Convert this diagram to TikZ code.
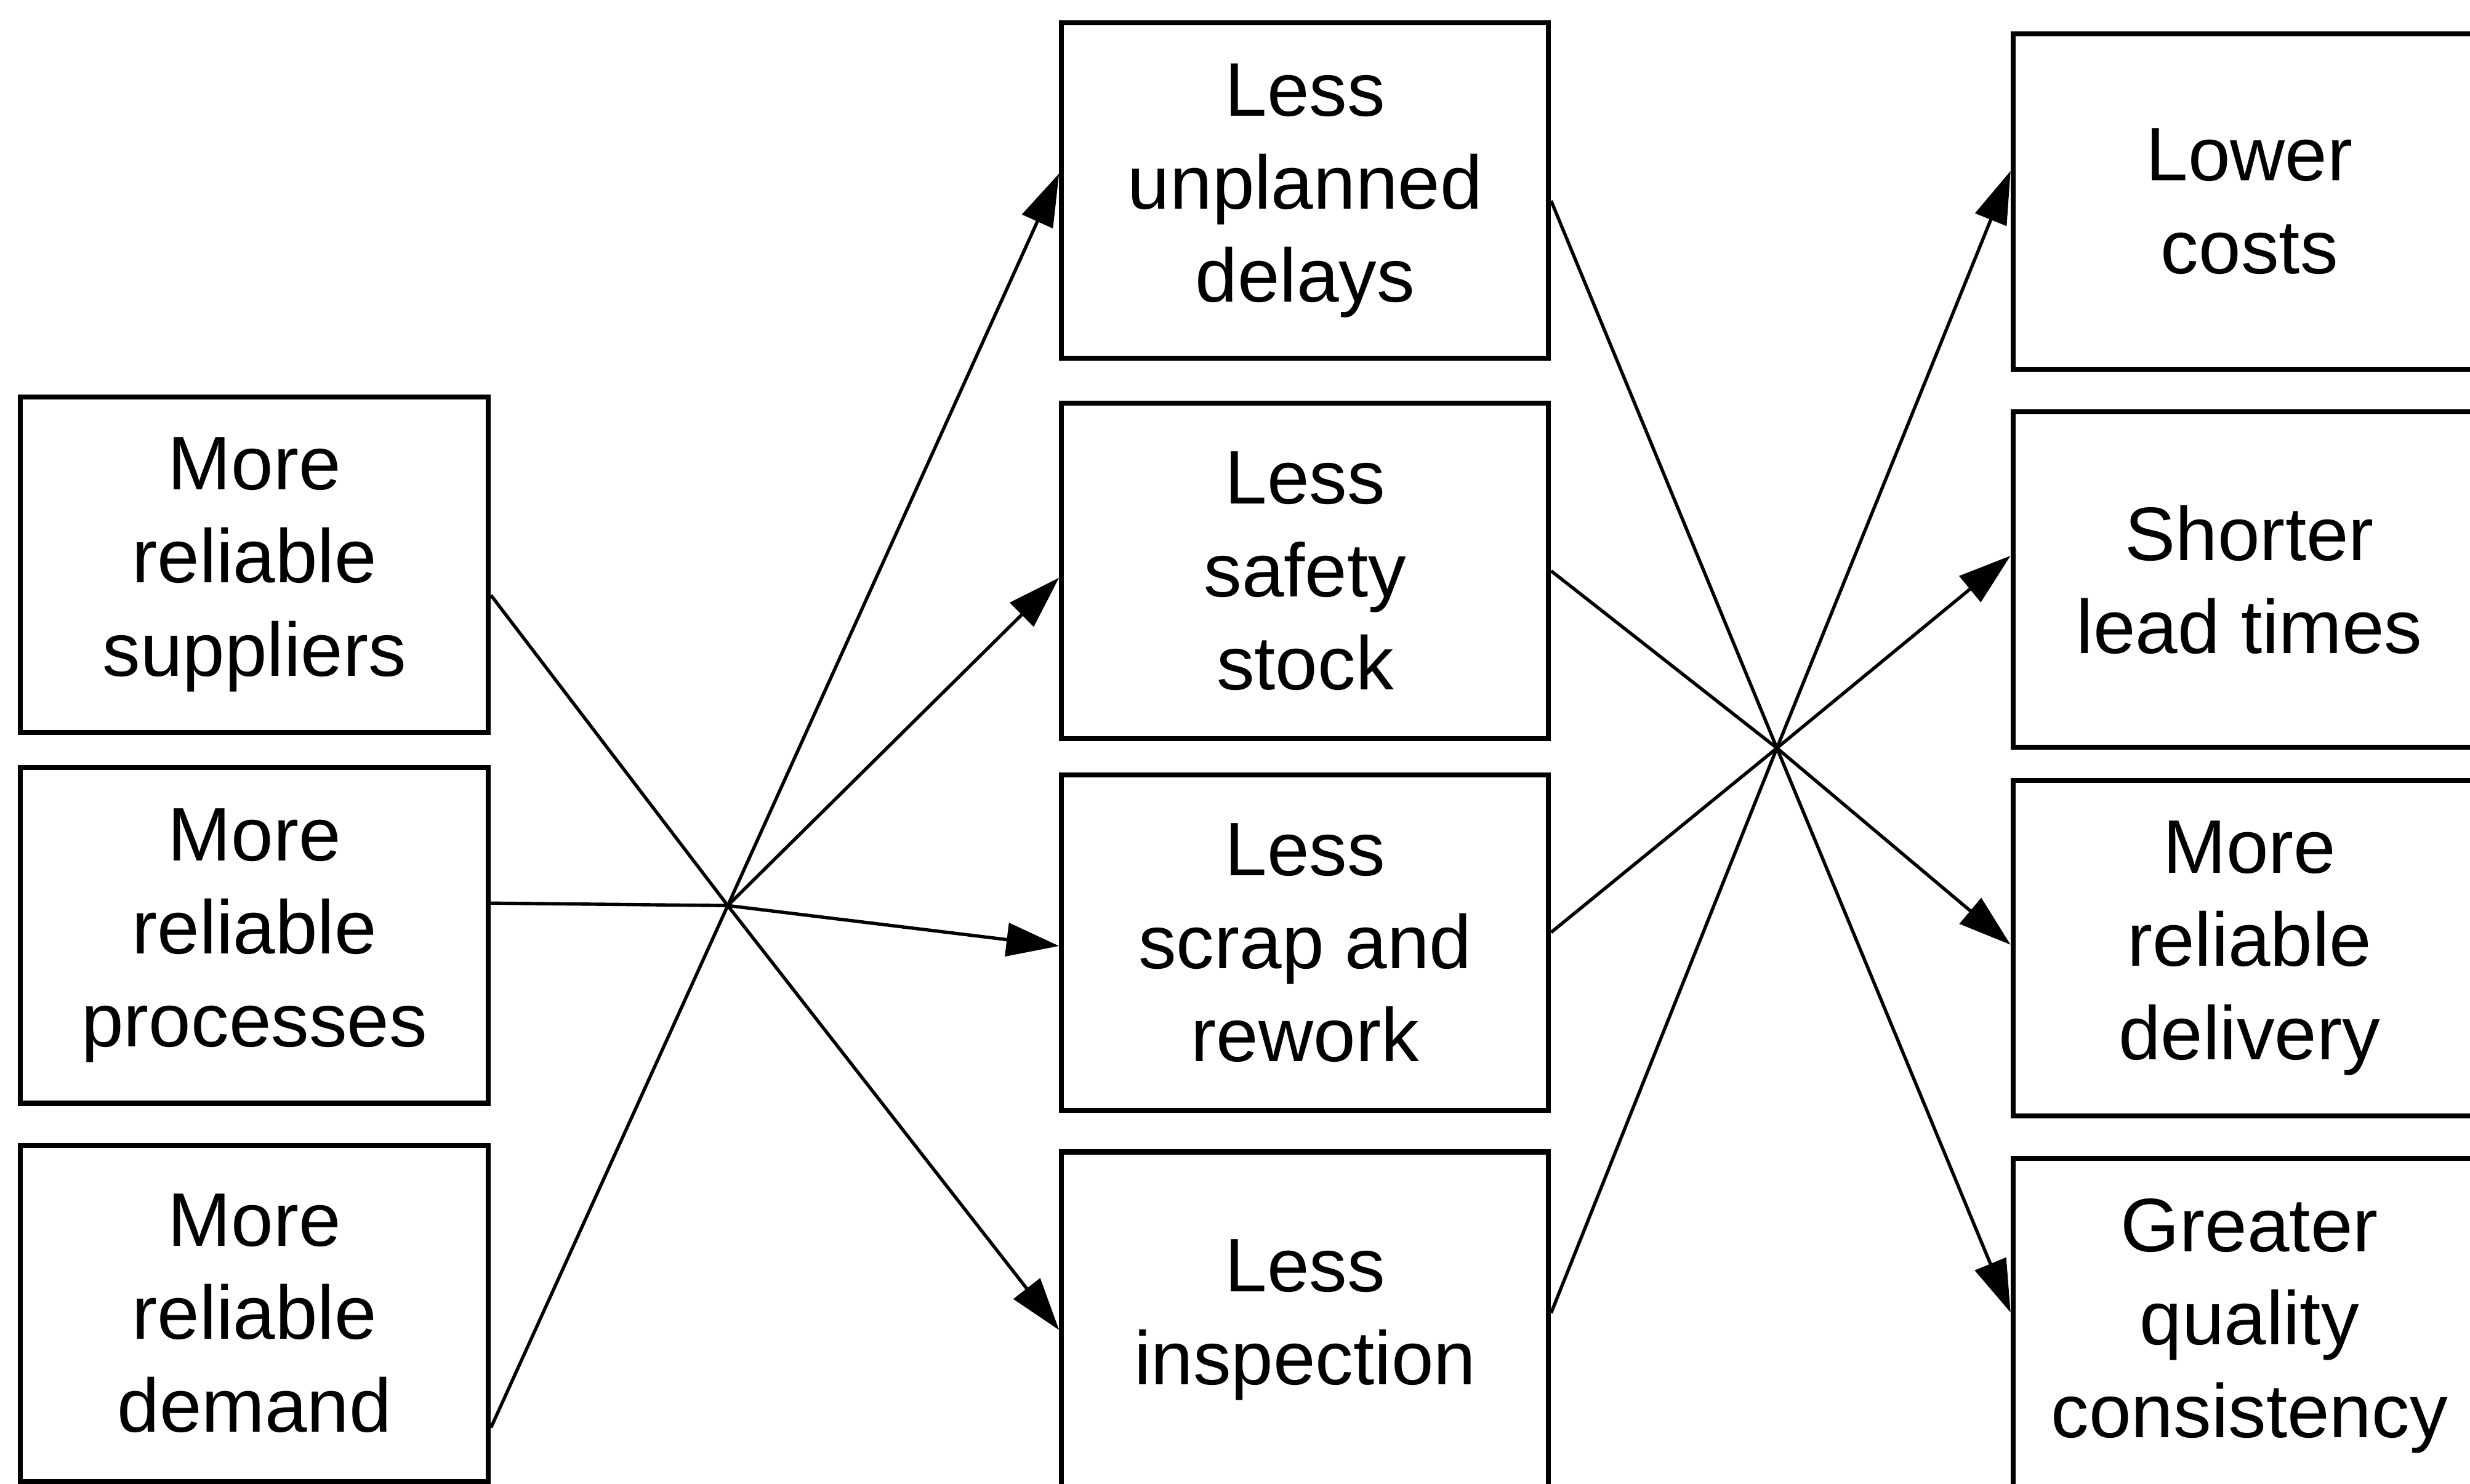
\documentclass[tikz,border=0pt]{standalone}
\usepackage{fontspec}
\setmainfont{Liberation Sans}
\usetikzlibrary{arrows.meta,calc}
\begin{document}
\begin{tikzpicture}[x=0.01cm,y=-0.01cm,
  box/.style={draw, line width=0.9pt, minimum height=2.13cm, align=center,
    inner sep=0pt, font=\fontsize{13.7}{16.8}\selectfont},
  srcbox/.style={box, minimum width=2.97cm},
  midbox/.style={box, minimum width=3.09cm},
  outbox/.style={box, minimum width=3.0cm},
  link/.style={line width=0.6pt, line join=round},
  arrowlink/.style={link, -{Triangle[length=9.5pt,width=6pt]}}]
\useasboundingbox (0,0) rectangle (1568,942);

% sources
\node[srcbox] (sup)  at (161.5,358.5) {More\\reliable\\suppliers};
\node[srcbox] (proc) at (161.5,594)   {More\\reliable\\processes};
\node[srcbox] (dem)  at (161.5,834)   {More\\reliable\\demand};

% intermediate effects
\node[midbox] (delay)  at (828.5,121)   {Less\\unplanned\\delays};
\node[midbox] (safety) at (828.5,362.5) {Less\\safety\\stock};
\node[midbox] (scrap)  at (828.5,598.5) {Less\\scrap and\\rework};
\node[midbox] (insp)   at (828.5,838)   {Less\\inspection};

% outcomes
\node[outbox] (cost)  at (1428,128) {Lower\\costs};
\node[outbox] (lead)  at (1428,368) {Shorter\\lead times};
\node[outbox] (deliv) at (1428,602) {More\\reliable\\delivery};
\node[outbox] (qual)  at (1428,842) {Greater\\quality\\consistency};

% crossing points
\coordinate (hubL) at (462,575);
\coordinate (hubR) at (1128,475);

% left fan
\draw[arrowlink] ($(sup.north east)!0.59!(sup.south east)$) -- (hubL)
  -- ($(insp.north west)!0.53!(insp.south west)$);
\draw[arrowlink] ($(proc.north east)!0.405!(proc.south east)$) -- (hubL)
  -- ($(scrap.north west)!0.51!(scrap.south west)$);
\draw[arrowlink] (hubL) -- ($(safety.north west)!0.52!(safety.south west)$);
\draw[arrowlink] ($(dem.north east)!0.835!(dem.south east)$) -- (hubL)
  -- ($(delay.north west)!0.45!(delay.south west)$);

% right fan
\draw[arrowlink] ($(delay.north east)!0.53!(delay.south east)$) -- (hubR)
  -- ($(qual.north west)!0.46!(qual.south west)$);
\draw[arrowlink] ($(safety.north east)!0.5!(safety.south east)$) -- (hubR)
  -- ($(deliv.north west)!0.49!(deliv.south west)$);
\draw[arrowlink] ($(scrap.north east)!0.47!(scrap.south east)$) -- (hubR)
  -- ($(lead.north west)!0.43!(lead.south west)$);
\draw[arrowlink] ($(insp.north east)!0.48!(insp.south east)$) -- (hubR)
  -- ($(cost.north west)!0.41!(cost.south west)$);
\end{tikzpicture}
\end{document}
